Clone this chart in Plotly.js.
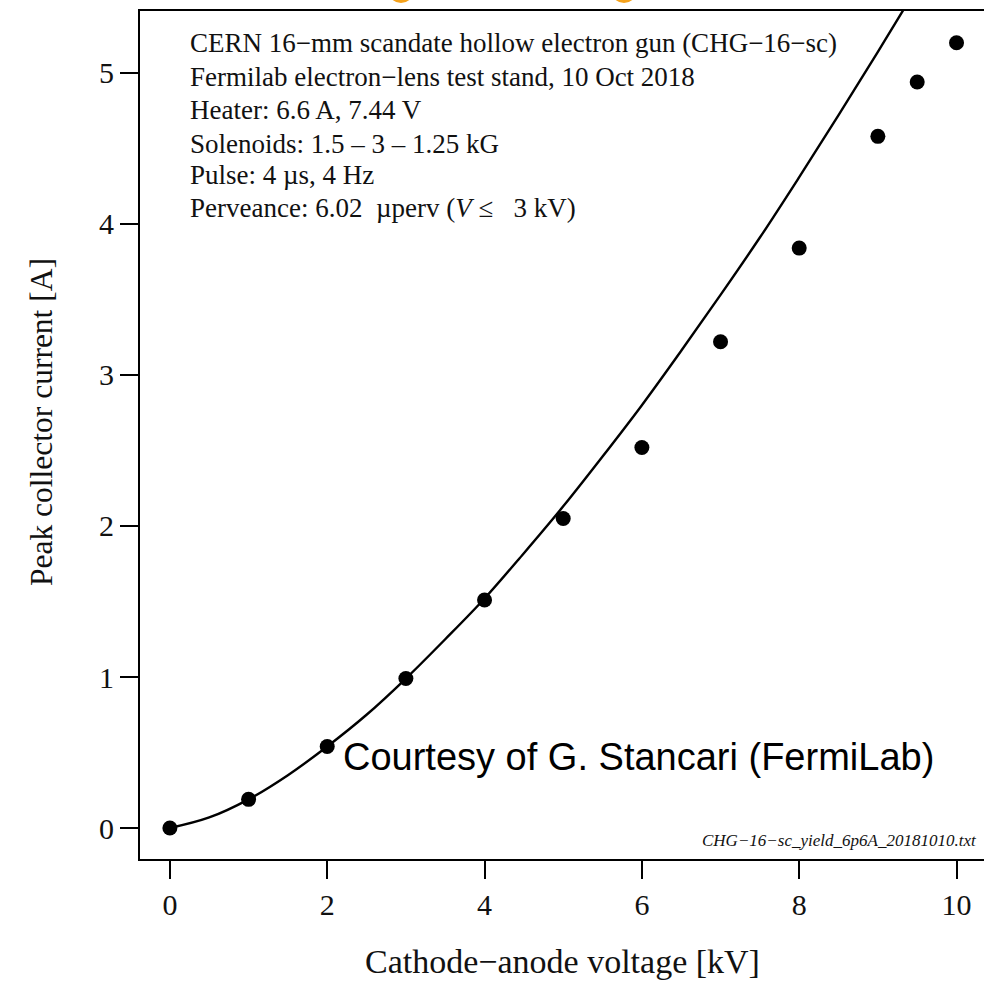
<!DOCTYPE html>
<html>
<head>
<meta charset="utf-8">
<script src="https://cdn.plot.ly/plotly-3.0.1.min.js"></script>
<style>
html,body{margin:0;padding:0;overflow:hidden;background:#fff;}
#chart{width:1000px;height:984px;}
</style>
</head>
<body>
<div id="chart"></div>
<script>
// Measured data: cathode-anode voltage [kV] vs peak collector current [A]
const voltage = [0, 1, 2, 3, 4, 5, 6, 7, 8, 9, 9.5, 10];
const current = [0, 0.19, 0.54, 0.99, 1.51, 2.05, 2.52, 3.22, 3.84, 4.58, 4.94, 5.20];

// Perveance curve
const curveV = [0, 0.5, 1, 1.5, 2, 2.5, 3, 3.5, 4, 4.5, 5, 5.5, 6, 6.5, 7, 7.5, 8, 8.5, 9, 9.5, 10];
const curveI = [0, 0.07, 0.19, 0.35, 0.54, 0.75, 0.99, 1.25, 1.52, 1.82, 2.13, 2.46, 2.80, 3.16, 3.53, 3.91, 4.31, 4.72, 5.14, 5.57, 6.02];

const xTicks = [0, 2, 4, 6, 8, 10];
const yTicks = [0, 1, 2, 3, 4, 5];

const xTitle = "Cathode\u2212anode voltage [kV]";
const yTitle = "Peak collector current [A]";

const infoLines = [
  "CERN 16\u2212mm scandate hollow electron gun (CHG\u221216\u2212sc)",
  "Fermilab electron\u2212lens test stand, 10 Oct 2018",
  "Heater: 6.6 A, 7.44 V",
  "Solenoids: 1.5 \u2013 3 \u2013 1.25 kG",
  "Pulse: 4 \u00b5s, 4 Hz",
  "Perveance: 6.02 \u00a0\u00b5perv (<i>V</i> \u2264 \u00a0 3 kV)"
];
const infoY = [43, 77, 110, 144, 175, 208];

const L = 140, T = 11, PW = 848, PH = 848;
const px = v => (v - L) / PW;
const py = v => (T + PH - v) / PH;

const serif = "Liberation Serif, Times New Roman, serif";

const traces = [
  {
    x: curveV, y: curveI, type: 'scatter', mode: 'lines',
    line: {color: '#000', width: 2.4, shape: 'spline', smoothing: 1},
    hoverinfo: 'skip', showlegend: false
  },
  {
    x: voltage, y: current, type: 'scatter', mode: 'markers',
    marker: {color: '#000', size: 15, symbol: 'circle'},
    showlegend: false, cliponaxis: true
  }
];

const annotations = infoLines.map((t, i) => ({
  xref: 'paper', yref: 'paper', x: px(188), y: py(infoY[i]),
  xanchor: 'left', yanchor: 'middle', showarrow: false,
  text: t, font: {family: serif, size: 27, color: '#111'}
}));
annotations.push({
  xref: 'paper', yref: 'paper', x: px(341), y: py(757),
  xanchor: 'left', yanchor: 'middle', showarrow: false,
  text: "Courtesy of G. Stancari (FermiLab)",
  font: {family: "Liberation Sans, Arial, sans-serif", size: 38, color: '#000'}
});
annotations.push({
  xref: 'paper', yref: 'paper', x: px(979), y: py(840),
  xanchor: 'right', yanchor: 'middle', showarrow: false,
  text: "<i>CHG\u221216\u2212sc_yield_6p6A_20181010.txt</i>",
  font: {family: serif, size: 17, color: '#111'}
});
annotations.push({
  xref: 'paper', yref: 'paper', x: px(562), y: py(961),
  xanchor: 'center', yanchor: 'middle', showarrow: false,
  text: xTitle, font: {family: serif, size: 34, color: '#111'}
});
annotations.push({
  xref: 'paper', yref: 'paper', x: px(41), y: py(422),
  xanchor: 'center', yanchor: 'middle', showarrow: false, textangle: -90,
  text: yTitle, font: {family: serif, size: 31.5, color: '#111'}
});

const shapes = [
  {type: 'circle', xref: 'paper', yref: 'paper', x0: px(388), x1: px(414), y0: py(3), y1: py(-23),
   fillcolor: '#f5a21b', line: {width: 0}},
  {type: 'circle', xref: 'paper', yref: 'paper', x0: px(611), x1: px(637), y0: py(3), y1: py(-23),
   fillcolor: '#f5a21b', line: {width: 0}}
];

const layout = {
  width: 1000, height: 984,
  margin: {l: L, r: 1000 - L - PW, t: T, b: 984 - T - PH, pad: 0},
  paper_bgcolor: '#fff', plot_bgcolor: '#fff',
  showlegend: false,
  xaxis: {
    range: [-0.38, 10.4], tickvals: xTicks, ticktext: xTicks.map(String),
    showgrid: false, zeroline: false, showline: true, mirror: true,
    linecolor: '#000', linewidth: 2, ticks: 'outside', ticklen: 18, tickwidth: 2, tickcolor: '#000',
    tickfont: {family: serif, size: 30, color: '#111'}, ticklabelstandoff: 0
  },
  yaxis: {
    range: [-0.205, 5.41], tickvals: yTicks, ticktext: yTicks.map(String),
    showgrid: false, zeroline: false, showline: true, mirror: true,
    linecolor: '#000', linewidth: 2, ticks: 'outside', ticklen: 18, tickwidth: 2, tickcolor: '#000',
    tickfont: {family: serif, size: 30, color: '#111'}
  },
  annotations: annotations,
  shapes: shapes
};

Plotly.newPlot('chart', traces, layout, {displayModeBar: false, staticPlot: true});
</script>
</body>
</html>
